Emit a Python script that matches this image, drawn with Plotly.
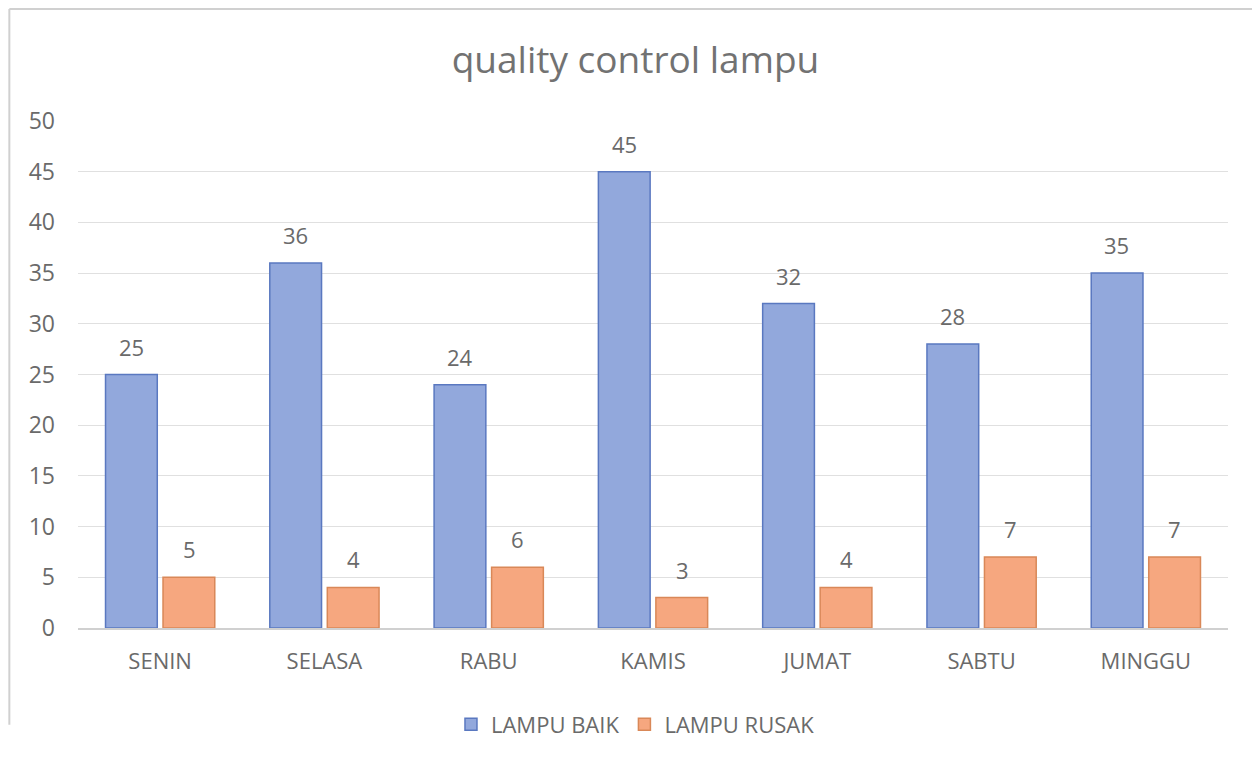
import plotly.graph_objects as go

categories = ["SENIN", "SELASA", "RABU", "KAMIS", "JUMAT", "SABTU", "MINGGU"]
lampu_baik = [25, 36, 24, 45, 32, 28, 35]
lampu_rusak = [5, 4, 6, 3, 4, 7, 7]
y_ticks = [0, 5, 10, 15, 20, 25, 30, 35, 40, 45, 50]

FONT = "'Open Sans', sans-serif"
GREY = "#6a6a6a"

fig = go.Figure()
fig.add_trace(go.Bar(
    x=categories, y=lampu_baik, name="LAMPU BAIK",
    marker=dict(color="#92a8dc", line=dict(color="#5a78c0", width=1.5)),
))
fig.add_trace(go.Bar(
    x=categories, y=lampu_rusak, name="LAMPU RUSAK",
    marker=dict(color="#f6a77f", line=dict(color="#d98858", width=1.5)),
))

for cat, v in zip(categories, lampu_baik):
    fig.add_annotation(x=cat, y=v, text=str(v), showarrow=False, xshift=-29, yshift=28,
                       font=dict(family=FONT, size=22, color=GREY))
for cat, v in zip(categories, lampu_rusak):
    fig.add_annotation(x=cat, y=v, text=str(v), showarrow=False, xshift=29, yshift=28,
                       font=dict(family=FONT, size=22, color=GREY))

# outer chart border (top and left)
fig.add_shape(type="line", xref="paper", yref="paper", x0=-0.0597, x1=1.04, y0=1.2209, y1=1.2209,
              line=dict(color="#d0d0d0", width=2))
fig.add_shape(type="line", xref="paper", yref="paper", x0=-0.0597, x1=-0.0597, y0=1.2209, y1=-0.191,
              line=dict(color="#d0d0d0", width=2))

fig.update_layout(
    width=1260, height=767,
    margin=dict(l=70, r=40, t=113, b=147),
    paper_bgcolor="white", plot_bgcolor="white",
    barmode="group", bargap=0.3, bargroupgap=0.1,
    title=dict(text="quality control lampu", xref="container", x=0.498, yref="container", y=0.932,
               xanchor="center", yanchor="middle",
               font=dict(family=FONT, size=37, color="#727272")),
    font=dict(family=FONT, color=GREY),
    showlegend=True,
    legend=dict(orientation="h", xref="container", x=0.498, xanchor="center",
                yref="container", y=0.066, yanchor="middle",
                font=dict(family=FONT, size=22, color=GREY), traceorder="normal"),
    xaxis=dict(showgrid=False, showline=True, linecolor="#d0d0d0", linewidth=1.5,
               ticks="", tickfont=dict(family=FONT, size=22, color=GREY), ticklabelstandoff=13),
    yaxis=dict(range=[0, 50], tickvals=y_ticks, showgrid=True, gridcolor="#e0e0e0", gridwidth=1,
               zeroline=False, showline=False, ticks="",
               tickfont=dict(family=FONT, size=23, color=GREY), ticklabelstandoff=22),
)

fig.write_html("out.html")
